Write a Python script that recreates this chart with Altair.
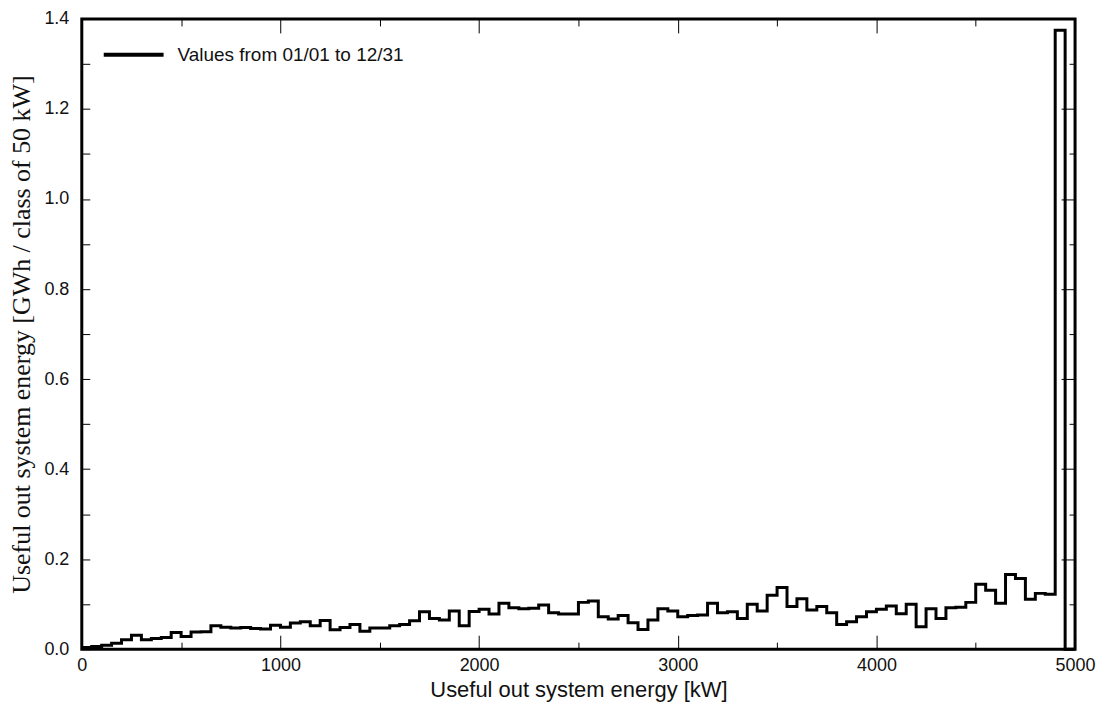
import altair as alt
import pandas as pd

# ---- data: energy per 50 kW class [GWh] ----
bin_width = 50
values = [
    0.004, 0.006, 0.009, 0.013, 0.021, 0.031, 0.021, 0.024, 0.026, 0.037, 0.028, 0.038,
    0.039, 0.052, 0.049, 0.047, 0.048, 0.046, 0.045, 0.053, 0.049, 0.058, 0.061, 0.052, 0.064,
    0.043, 0.048, 0.055, 0.040, 0.047, 0.047, 0.052, 0.055, 0.063, 0.083, 0.068, 0.065,
    0.085, 0.052, 0.084, 0.089, 0.078, 0.102, 0.092, 0.090, 0.091, 0.098, 0.081, 0.078,
    0.078, 0.104, 0.107, 0.072, 0.067, 0.075, 0.059, 0.044, 0.065, 0.090, 0.085, 0.072,
    0.075, 0.076, 0.102, 0.081, 0.083, 0.068, 0.100, 0.085, 0.120, 0.137, 0.095, 0.112,
    0.087, 0.095,
    0.081, 0.055, 0.061, 0.072, 0.083, 0.089, 0.096, 0.079, 0.100, 0.050, 0.090, 0.068,
    0.092, 0.093, 0.104, 0.144, 0.131, 0.102, 0.166, 0.157, 0.111, 0.124, 0.122, 1.375, 0.0,
]
bin_starts = [i * bin_width for i in range(len(values))]
x_end = 5000
series_name = "Values from 01/01 to 12/31"

x_major = [0, 1000, 2000, 3000, 4000, 5000]
x_minor = [500, 1500, 2500, 3500, 4500]
y_all = [0.0, 0.1, 0.2, 0.3, 0.4, 0.5, 0.6, 0.7, 0.8, 0.9, 1.0, 1.1, 1.2, 1.3, 1.4]
y_major = [0.0, 0.2, 0.4, 0.6, 0.8, 1.0, 1.2, 1.4]
y_minor = [0.1, 0.3, 0.5, 0.7, 0.9, 1.1, 1.3]

df = pd.DataFrame({
    "x": bin_starts + [x_end],
    "y": values + [values[-1]],
    "series": series_name,
})

SANS = "Liberation Sans"
SERIF = "Liberation Serif"


def xs():
    return alt.Scale(domain=[0, 5000], nice=False, zero=False)


def ys():
    return alt.Scale(domain=[0, 1.4], nice=False, zero=False)


def ax(orient, vals, size, **kw):
    base = dict(orient=orient, values=vals, tickSize=size, offset=-size,
                domain=False, grid=False, tickColor="black", tickWidth=1)
    if "labels" not in kw:
        base["labels"] = False
        base["title"] = None
    base.update(kw)
    return alt.Axis(**base)


line = alt.Chart(df).mark_line(interpolate="step-after", strokeWidth=3).encode(
    x=alt.X("x:Q", scale=xs(), axis=ax(
        "bottom", x_major, 14, labels=True, format="d",
        labelFont=SANS, labelFontSize=18, labelColor="#111",
        labelPadding=7, labelFlush=False, labelOverlap=False,
        title="Useful out system energy [kW]", titleFont=SANS,
        titleFontSize=22, titleFontWeight="normal", titleColor="#111",
        titleY=44, titleBaseline="top")),
    y=alt.Y("y:Q", scale=ys(), axis=ax(
        "left", y_all, 8, labels=True, format=".1f",
        labelExpr="round(datum.value * 10) % 2 == 0 ? datum.label : ''",
        labelFont=SANS, labelFontSize=18, labelColor="#111",
        labelPadding=13, labelFlush=False, labelOverlap=False,
        title="Useful out system energy [GWh / class of 50 kW]",
        titleFont=SERIF, titleFontSize=26, titleFontWeight="normal",
        titleColor="#111", titleX=-60, titleBaseline="alphabetic")),
    color=alt.Color("series:N", scale=alt.Scale(range=["black"]), title=None,
                    legend=alt.Legend(orient="none", legendX=20, legendY=4,
                                      symbolType="stroke", symbolSize=3600,
                                      symbolStrokeWidth=4, labelOffset=12,
                                      labelFont=SANS, labelFontSize=19,
                                      labelColor="#111", labelLimit=500,
                                      padding=0)),
)

g2 = alt.Chart(df).mark_point(opacity=0).encode(
    x=alt.X("x:Q", scale=xs(), axis=ax("bottom", x_minor, 7)),
    y=alt.Y("y:Q", scale=ys(), axis=ax("right", y_major, 14)),
)
g3 = alt.Chart(df).mark_point(opacity=0).encode(
    x=alt.X("x:Q", scale=xs(), axis=ax("top", x_major, 14)),
    y=alt.Y("y:Q", scale=ys(), axis=ax("right", y_minor, 6)),
)
g4 = alt.Chart(df).mark_point(opacity=0).encode(
    x=alt.X("x:Q", scale=xs(), axis=ax("top", x_minor, 7)),
    y=alt.Y("y:Q", scale=ys(), axis=None),
)

chart = alt.layer(line, g2, g3, g4).resolve_axis(
    x="independent", y="independent"
).properties(
    width=996, height=632,
    autosize=alt.AutoSizeParams(type="none"),
    padding={"left": 74, "top": 10, "right": 22, "bottom": 58},
    background="white",
).configure_view(stroke="black", strokeWidth=3)

chart.save("out.html", embed_options={"renderer": "svg", "actions": False})
